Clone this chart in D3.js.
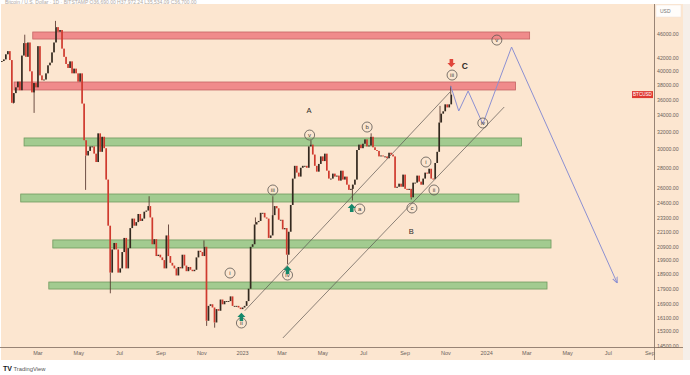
<!DOCTYPE html>
<html>
<head>
<meta charset="utf-8">
<script src="https://cdn.jsdelivr.net/npm/d3@7"></script>
<style>
html, body { margin: 0; padding: 0; background: #fff; }
svg { display: block; font-family: "Liberation Sans", "Noto Sans", sans-serif; }
</style>
</head>
<body>
<svg id="chart" width="690" height="375"></svg>
<script>
// BTCUSD closes, one bar every 3 days starting 2022-01-07
const BAR_START = "2022-01-07";
const BAR_STEP = 3;
const closes2022 = [
  41550, 41800, 42600, 43100, 41700, 35600, 36900, 37700, 38500,          // Jan
  37300, 42400, 44400, 42200, 44500, 40000, 37000, 38300, 37700,          // Feb
  43900, 39400, 38700, 38800, 39700, 40900, 41300, 42900, 44500, 47100,   // Mar
  46300, 46600, 43500, 42200, 41100, 40500, 41500, 39700, 40400, 39700,   // Apr
  38500, 39700, 35500, 31000, 29300, 29800, 30300, 30300, 29500, 28600, 31800, // May
  29700, 31400, 30100, 26800, 22600, 19000, 20700, 21200, 20700, 19000,   // Jun
  19300, 20500, 21600, 19300, 20800, 22400, 23200, 22600, 22900, 23600,   // Jul
  23000, 23200, 23800, 23900, 24300, 23300, 21100, 21500, 20200, 20300,   // Aug
  20100, 19900, 19300, 21800, 20200, 19700, 19500, 19300, 18800, 19400,   // Sep
  19300, 20300, 19500, 19100, 19400, 19200, 19100, 19200, 20100, 20600, 20500, // Oct
  20200, 20900, 15900, 16800, 16900, 16700, 15800, 16600, 16500, 17200,   // Nov
  16900, 17100, 17100, 17100, 17400, 16800, 16800, 16800, 16700, 16600    // Dec
];
const closes2023 = [
  16700, 16800, 17100, 17900, 20900, 21100, 22700, 22900, 23000, 23700,   // Jan
  23700, 23300, 23200, 21600, 21800, 23500, 24300, 24100, 23100, 23100,   // Feb
  22300, 22400, 20300, 22100, 24400, 26900, 28200, 27500, 27100, 28000,   // Mar
  28200, 28200, 28000, 30300, 30500, 29400, 28200, 27600, 28400, 29200,   // Apr
  28700, 29500, 27700, 26900, 26900, 27400, 27100, 27200, 26700, 27700,   // May
  26800, 27100, 26300, 25800, 25900, 26300, 26800, 29900, 30500, 30100,   // Jun
  30600, 31100, 30300, 30400, 31400, 30200, 29900, 29800, 29200, 29300, 29200, // Jul
  29200, 29000, 29600, 29400, 29200, 26000, 26100, 26400, 26100, 27300,   // Aug
  25900, 25800, 25900, 25100, 26500, 26500, 27200, 26600, 26300, 26900,   // Sep
  27500, 27400, 27900, 26900, 26850, 28500, 29700, 33100, 34200, 34500,   // Oct
  35400, 35000, 35400, 36700                                              // Nov
];

// long wicks visible on the chart
const wickDates  = ["2022-01-24","2022-02-10","2022-02-24","2022-03-28","2022-05-12","2022-06-18","2022-08-15",
                    "2022-09-13","2022-11-05","2022-11-09","2022-11-21","2023-01-21","2023-02-16","2023-03-10",
                    "2023-04-14","2023-06-15","2023-07-13","2023-09-11","2023-10-24","2023-11-09"];
const wickPrices = [35500, 45800, 34300, 48200, 25800, 17600, 25200, 22700, 21400, 15600, 15500, 23300, 25200,
                    19600, 31000, 24800, 31800, 24900, 35200, 37900];

// supply (red) / demand (green) zones
const zoneStart = ["2022-02-22","2022-01-25","2022-02-09","2022-02-04","2022-03-24","2022-03-18"];
const zoneEnd   = ["2024-03-06","2024-02-14","2024-02-23","2024-02-19","2024-04-07","2024-04-01"];
const zoneLow   = [45070, 37330, 30350, 24670, 20810, 17880];
const zoneHigh  = [46260, 38450, 31260, 25410, 21440, 18350];
const zoneKind  = ["supply","supply","demand","demand","demand","demand"];

// trend channel
const channelStartDate  = ["2023-01-05","2023-03-03"];
const channelStartPrice = [16500, 14920];
const channelEndDate    = ["2023-11-08","2024-01-28"];
const channelEndPrice   = [37050, 35050];

// projected path
const projDates  = ["2023-11-09","2023-11-21","2023-12-05","2023-12-27","2024-02-08","2024-07-15"];
const projPrices = [37890, 34540, 37190, 32920, 43760, 18280];

// wave counts in circles
const waveDates  = ["2024-01-17","2023-11-11","2023-12-27","2023-04-12","2023-07-07","2023-02-16",
                    "2023-06-26","2023-09-12","2023-10-03","2023-10-15","2022-12-14","2023-03-10","2022-12-31"];
const wavePrices = [44900, 39450, 33040, 31600, 32550, 25790, 24040, 24130, 28600, 25790, 18970, 18830, 15770];
const waveText   = ["v","iii","iv","v","b","iii","a","c","i","ii","i","iv","ii"];

const letterDates  = ["2023-04-11","2023-09-11","2023-11-30"];
const letterPrices = [34670, 22160, 40790];
const letterText   = ["A","B","C"];

const upArrowDates   = ["2022-12-31","2023-03-10","2023-06-14"];
const upArrowPrices  = [16120, 19180, 24130];
const downArrowDates  = ["2023-11-10"];
const downArrowPrices = [41240];

// axes
const xTickDates  = ["2022-03-01","2022-05-01","2022-07-01","2022-09-01","2022-11-01","2023-01-01",
                     "2023-03-01","2023-05-01","2023-07-01","2023-09-01","2023-11-01","2024-01-01",
                     "2024-03-01","2024-05-01","2024-07-01","2024-09-01"];
const xTickLabels = ["Mar","May","Jul","Sep","Nov","2023","Mar","May","Jul","Sep","Nov","2024","Mar","May","Jul","Sep"];
const yTicks = [46000, 42000, 40000, 38000, 36000, 34000, 32000, 30000, 28000, 26000, 24600, 23300,
                22100, 20900, 19900, 18900, 17900, 16900, 16100, 15300, 14500];

const parse = d3.utcParse("%Y-%m-%d");
const svg = d3.select("#chart");

const x = d3.scaleUtc().domain([parse("2022-01-07"), parse("2024-09-05")]).range([2, 652]);
const y = d3.scaleLog().domain([14430, 50180]).range([347, 10]);

// backgrounds
svg.append("rect").attr("width", 690).attr("height", 375).attr("fill", "#ffffff");
svg.append("rect").attr("x", 683).attr("y", 4).attr("width", 7).attr("height", 356).attr("fill", "#f6efe9");
svg.append("rect").attr("x", 1).attr("y", 4).attr("width", 682).attr("height", 356).attr("fill", "#fce6d0");

svg.append("text").attr("x", 5).attr("y", 3.5).attr("font-size", 5).attr("fill", "#b0a89f")
  .text("Bitcoin / U.S. Dollar · 1D · BITSTAMP   O36,690.00  H37,972.24  L35,534.09  C36,700.00");

const defs = svg.append("defs");
defs.append("clipPath").attr("id", "plot").append("rect")
  .attr("x", 1).attr("y", 4).attr("width", 653).attr("height", 343);
defs.append("marker").attr("id", "head")
  .attr("viewBox", "0 0 6 6").attr("refX", 6).attr("refY", 3)
  .attr("markerWidth", 6).attr("markerHeight", 6)
  .attr("markerUnits", "userSpaceOnUse").attr("orient", "auto")
  .append("path").attr("d", "M0,0.5L6,3L0,5.5").attr("fill", "none")
  .attr("stroke", "#8c90d2").attr("stroke-width", 1);

const plot = svg.append("g").attr("clip-path", "url(#plot)");

// zones
plot.append("g").selectAll("rect")
  .data(zoneStart.map((d, i) => i))
  .join("rect")
    .attr("x", i => x(parse(zoneStart[i])))
    .attr("width", i => x(parse(zoneEnd[i])) - x(parse(zoneStart[i])))
    .attr("y", i => y(zoneHigh[i]))
    .attr("height", i => y(zoneLow[i]) - y(zoneHigh[i]))
    .attr("fill", i => zoneKind[i] === "supply" ? "#f08b8b" : "#a2cb90")
    .attr("stroke", i => zoneKind[i] === "supply" ? "#c46464" : "#6f9a5e")
    .attr("stroke-width", 0.8);

// candles
const closes = closes2022.concat(closes2023);
const t0 = parse(BAR_START);
const bars = closes.map((c, i) => ({
  date: d3.utcDay.offset(t0, i * BAR_STEP),
  open: i ? closes[i - 1] : c,
  close: c
}));
const barW = x(d3.utcDay.offset(t0, BAR_STEP)) - x(t0);

plot.append("g").selectAll("line")
  .data(wickDates.map((d, i) => i))
  .join("line")
    .attr("x1", i => x(parse(wickDates[i])))
    .attr("x2", i => x(parse(wickDates[i])))
    .attr("y1", i => {
      const k = Math.max(0, Math.min(bars.length - 1,
        Math.round(d3.utcDay.count(t0, parse(wickDates[i])) / BAR_STEP)));
      return y(bars[k].close);
    })
    .attr("y2", i => y(wickPrices[i]))
    .attr("stroke", "#4a2a22").attr("stroke-width", 0.8);

plot.append("g").selectAll("rect")
  .data(bars)
  .join("rect")
    .attr("x", d => x(d.date) - barW / 2)
    .attr("width", barW - 0.3)
    .attr("y", d => Math.min(y(d.open), y(d.close)))
    .attr("height", d => Math.max(0.9, Math.abs(y(d.open) - y(d.close))))
    .attr("fill", d => d.close >= d.open ? "#33291f" : "#cf3a2e");

// channel
plot.append("g").selectAll("line")
  .data([0, 1])
  .join("line")
    .attr("x1", i => x(parse(channelStartDate[i])))
    .attr("y1", i => y(channelStartPrice[i]))
    .attr("x2", i => x(parse(channelEndDate[i])))
    .attr("y2", i => y(channelEndPrice[i]))
    .attr("stroke", "#5a5550").attr("stroke-width", 0.7);

// projection
const proj = d3.line().x(i => x(parse(projDates[i]))).y(i => y(projPrices[i]));
plot.append("path")
  .attr("d", proj(projDates.map((d, i) => i)))
  .attr("fill", "none").attr("stroke", "#8c90d2").attr("stroke-width", 1)
  .attr("marker-end", "url(#head)");

// wave labels
const waves = plot.append("g");
waveDates.forEach((d, i) => {
  const g = waves.append("g").attr("transform", `translate(${x(parse(d))},${y(wavePrices[i])})`);
  g.append("circle").attr("r", 5).attr("fill", "none").attr("stroke", "#5b5550").attr("stroke-width", 0.8);
  g.append("text").attr("text-anchor", "middle").attr("dy", "0.33em")
    .attr("font-size", 6).attr("fill", "#3f3a36").text(waveText[i]);
});

plot.append("g").selectAll("text")
  .data(letterText)
  .join("text")
    .attr("x", (d, i) => x(parse(letterDates[i])))
    .attr("y", (d, i) => y(letterPrices[i]))
    .attr("dy", "0.35em").attr("text-anchor", "middle")
    .attr("font-size", (d) => d === "C" ? 8.5 : 7.5)
    .attr("font-weight", d => d === "C" ? "bold" : "normal")
    .attr("fill", "#2e2a27")
    .text(d => d);

// arrows
const upShape = "M0,-4.2L4,0L1.8,0L1.8,4L-1.8,4L-1.8,0L-4,0Z";
plot.append("g").selectAll("path")
  .data(upArrowDates.map((d, i) => i))
  .join("path")
    .attr("transform", i => `translate(${x(parse(upArrowDates[i]))},${y(upArrowPrices[i])})`)
    .attr("d", upShape).attr("fill", "#15886a");
plot.append("g").selectAll("path")
  .data(downArrowDates.map((d, i) => i))
  .join("path")
    .attr("transform", i => `translate(${x(parse(downArrowDates[i]))},${y(downArrowPrices[i])}) rotate(180)`)
    .attr("d", upShape).attr("fill", "#e0463a");

// price tag
const last = bars[bars.length - 1];
svg.append("rect").attr("x", 632).attr("y", y(last.close) - 3.5).attr("width", 21).attr("height", 7)
  .attr("fill", "#df3b32");
svg.append("text").attr("x", 642.5).attr("y", y(last.close)).attr("dy", "0.35em")
  .attr("text-anchor", "middle").attr("font-size", 4.6).attr("fill", "#fff").text("BTCUSD");

// axes
const xAxis = d3.axisBottom(x)
  .tickValues(xTickDates.map(parse))
  .tickFormat((d, i) => xTickLabels[i])
  .tickSize(0).tickPadding(4);
svg.append("g").attr("transform", "translate(0,347)")
  .attr("color", "#6b625b")
  .call(xAxis)
  .call(g => g.select(".domain").remove())
  .call(g => g.selectAll("text").attr("font-size", 5.5).attr("font-family", "Liberation Sans, sans-serif"));

const yAxis = d3.axisRight(y)
  .tickValues(yTicks)
  .tickFormat(d3.format(".2f"))
  .tickSize(0).tickPadding(3);
svg.append("g").attr("transform", "translate(654,0)")
  .attr("color", "#6b625b")
  .call(yAxis)
  .call(g => g.select(".domain").remove())
  .call(g => g.selectAll("text").attr("font-size", 5.2).attr("font-family", "Liberation Sans, sans-serif"));

svg.append("line").attr("x1", 0).attr("x2", 683).attr("y1", 347.5).attr("y2", 347.5)
  .attr("stroke", "#7d6b5d").attr("stroke-width", 0.8);
svg.append("line").attr("x1", 654.5).attr("x2", 654.5).attr("y1", 4).attr("y2", 360)
  .attr("stroke", "#7d6b5d").attr("stroke-width", 0.8);

// USD box
svg.append("rect").attr("x", 656).attr("y", 5).attr("width", 25).attr("height", 12)
  .attr("fill", "#fffdfb").attr("stroke", "#eee3d8").attr("stroke-width", 0.5);
svg.append("text").attr("x", 660).attr("y", 11).attr("dy", "0.35em")
  .attr("font-size", 5).attr("fill", "#777").text("USD");

// logo
svg.append("text").attr("x", 3).attr("y", 371).attr("font-size", 7).attr("font-weight", "bold")
  .attr("fill", "#131722").text("TV");
svg.append("text").attr("x", 13.5).attr("y", 371).attr("font-size", 5.8).attr("fill", "#555").text("TradingView");
</script>
</body>
</html>
